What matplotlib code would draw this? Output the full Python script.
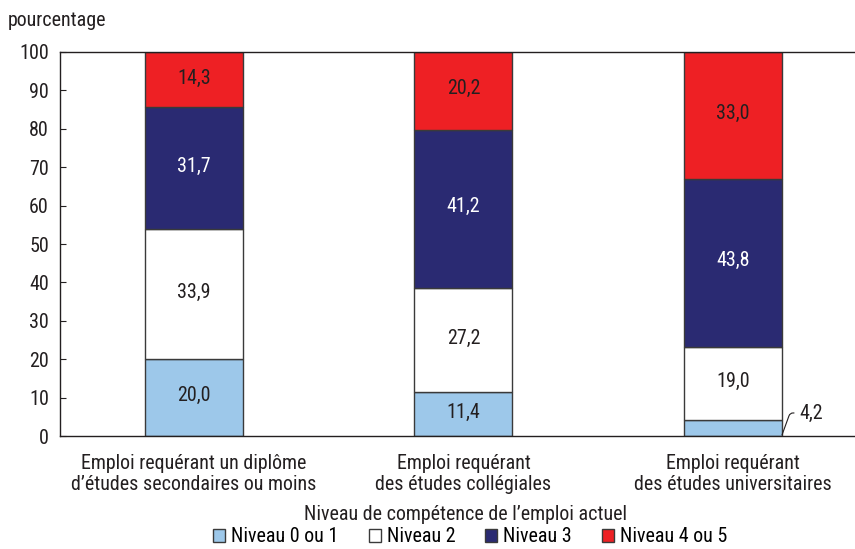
import numpy as np
import matplotlib.pyplot as plt
from matplotlib import font_manager

available = {f.name for f in font_manager.fontManager.ttflist}
families = [f for f in ['Liberation Sans Narrow', 'Roboto Condensed', 'Open Sans Condensed',
                        'Noto Sans Condensed', 'DejaVu Sans Condensed'] if f in available]
plt.rcParams['font.family'] = families + ['DejaVu Sans']

categories = ["Emploi requérant un diplôme\nd’études secondaires ou moins",
              "Emploi requérant\ndes études collégiales",
              "Emploi requérant\ndes études universitaires"]
series = ["Niveau 0 ou 1", "Niveau 2", "Niveau 3", "Niveau 4 ou 5"]
niveau01 = [20.0, 11.4, 4.2]
niveau2 = [33.9, 27.2, 19.0]
niveau3 = [31.7, 41.2, 43.8]
niveau45 = [14.3, 20.2, 33.0]
colors = ["#9dc8ea", "#ffffff", "#2a2a72", "#ee2024"]
text_colors = ["#231f20", "#231f20", "#ffffff", "#231f20"]

fs = 14.4 if 'Liberation Sans Narrow' in families or 'Roboto Condensed' in families else 12.5

fig = plt.figure(figsize=(8.55, 5.49), dpi=100)
ax = fig.add_axes([0.0702, 0.2058, 0.9298, 0.6995])

x = np.arange(len(categories))
width = 0.363
bottom = np.zeros(len(categories))
for vals, name, col, tcol in zip([niveau01, niveau2, niveau3, niveau45], series, colors, text_colors):
    vals = np.array(vals)
    ax.bar(x, vals, width, bottom=bottom, color=col, edgecolor="#3a3a3a", linewidth=1, label=name)
    for xi, b, v in zip(x, bottom, vals):
        if v < 8:
            ax.annotate(f"{v:.1f}".replace(".", ","), xy=(xi + width / 2, 0.3),
                        xytext=(xi + width / 2 + 0.065, 6.0), fontsize=fs, color="#231f20",
                        va="center", ha="left",
                        arrowprops=dict(arrowstyle="-", color="#231f20", lw=0.8,
                                        connectionstyle="angle,angleA=0,angleB=70,rad=3",
                                        shrinkA=2, shrinkB=0))
        else:
            ax.text(xi, b + v / 2 + 0.5, f"{v:.1f}".replace(".", ","), ha="center", va="center",
                    fontsize=fs, color=tcol)
    bottom += vals

ax.set_xlim(-0.496, 2.452)
ax.set_ylim(0, 100)
ax.set_yticks(range(0, 101, 10))
ax.tick_params(axis="y", direction="in", length=4, labelsize=fs, pad=8, colors="#231f20")
ax.tick_params(axis="x", length=0, labelsize=fs, pad=13, colors="#231f20")
ax.set_xticks(x)
ax.set_xticklabels(categories, linespacing=1.1)
ax.spines["right"].set_visible(False)
for s in ["left", "bottom", "top"]:
    ax.spines[s].set_color("#231f20")
    ax.spines[s].set_linewidth(1)

fig.text(0.0094, 0.963, "pourcentage", fontsize=fs, color="#231f20", va="center")
fig.text(0.544, 0.063, "Niveau de compétence de l’emploi actuel", fontsize=fs,
         color="#231f20", ha="center", va="center")

leg = fig.legend(loc="center", bbox_to_anchor=(0.55, 0.022), ncol=4, frameon=False,
                 fontsize=fs, handlelength=0.6, handleheight=0.6, handletextpad=0.3,
                 columnspacing=1.5, borderaxespad=0, borderpad=0.1)
for h in leg.legend_handles:
    h.set_edgecolor("#3a3a3a")

fig.savefig("out.png", dpi=100)
